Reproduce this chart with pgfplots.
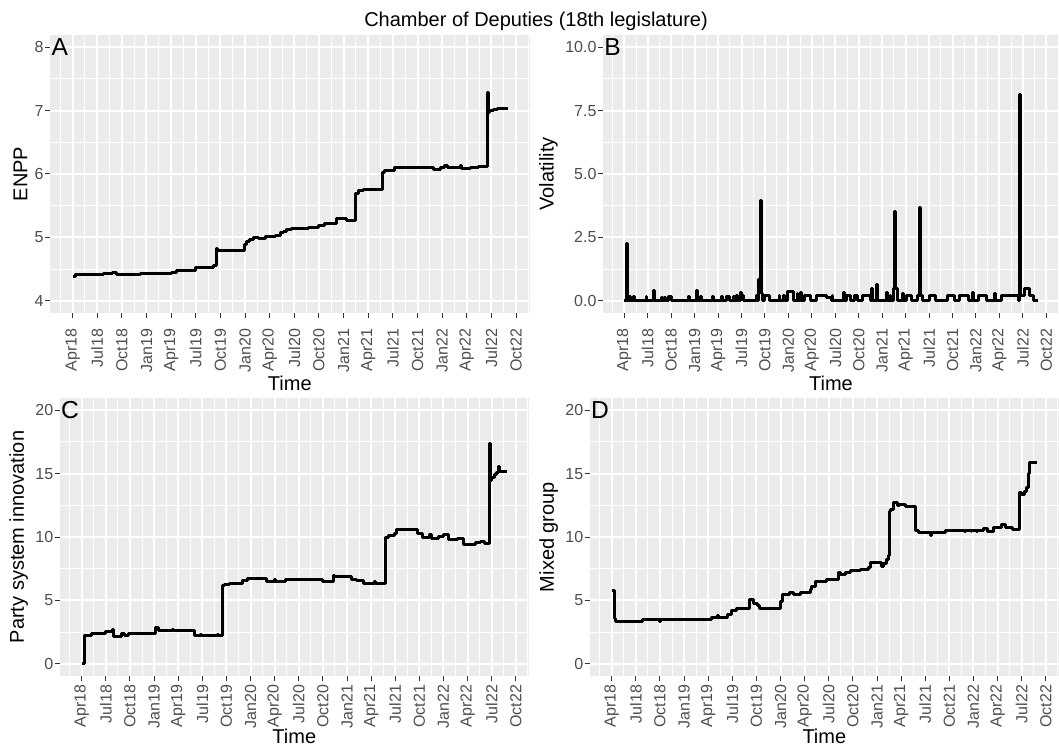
\documentclass[border=0pt]{standalone}
\usepackage{fontspec}
\setmainfont{Liberation Sans}
\usepackage{pgfplots}
\pgfplotsset{compat=1.18}

\definecolor{panelgray}{HTML}{EBEBEB}
\definecolor{ticktext}{HTML}{4D4D4D}
\definecolor{tickmark}{HTML}{333333}

\newcommand{\tickfont}{\fontsize{8}{9.6}\selectfont}
\newcommand{\titlefont}{\fontsize{10}{12}\selectfont}

\pgfplotsset{
  gg/.style={
    scale only axis,
    height=139.4pt,
    xmin=-2.75, xmax=55.65,
    axis line style={draw=none},
    axis background/.style={fill=panelgray},
    tick align=outside,
    xtick pos=bottom, ytick pos=left,
    major tick length=2.5pt,
    minor tick length=0pt,
    tick style={tickmark, line width=0.5pt},
    grid=both,
    major grid style={white, line width=1pt},
    minor grid style={white, line width=0.5pt},
    xtick={0,3,...,54},
    xticklabels={Apr18,Jul18,Oct18,Jan19,Apr19,Jul19,Oct19,Jan20,Apr20,Jul20,Oct20,Jan21,Apr21,Jul21,Oct21,Jan22,Apr22,Jul22,Oct22},
    minor xtick={-1.5,1.5,...,55.5},
    xticklabel style={rotate=90, anchor=east, font=\tickfont, text=ticktext, inner sep=0pt, xshift=-1.5pt},
    yticklabel style={font=\tickfont, text=ticktext, inner sep=0pt, xshift=-0.5pt},
    /pgf/number format/assume math mode=true,
    xlabel=Time,
    xlabel style={font=\titlefont, at={(ticklabel cs:0.5,2.5pt)}, anchor=north, inner sep=0pt},
    ylabel style={font=\titlefont, at={(ticklabel cs:0.5,3.5pt)}, rotate=0, anchor=south, inner sep=0pt},
  },
  toprow/.style={
    xticklabel style={xshift=-3.5pt},
    xlabel style={at={(ticklabel cs:0.5,1.5pt)}},
  },
  bottomrow/.style={
    xlabel style={at={(ticklabel cs:0.5,0pt)}},
  },
  dataline/.style={black, line width=1.5pt, const plot, line join=round, mark=none},
}
\tikzset{plab/.style={anchor=west, inner sep=0pt, xshift=0.6pt, font=\fontsize{12.3}{14}\selectfont}}

\begin{document}
\begin{tikzpicture}
\useasboundingbox (0,0) rectangle (529.5pt,-373.5pt);

\node[anchor=base, font=\titlefont] at (268pt,-13.2pt) {Chamber of Deputies (18th legislature)};

% A: ENPP
\begin{axis}[gg, toprow, at={(25pt,-17.3pt)}, anchor=north west, width=239.8pt,
    ymin=3.8, ymax=8.2, ytick={4,5,6,7,8}, minor ytick={4.5,5.5,6.5,7.5},
    ylabel=ENPP]
\addplot[dataline] coordinates {
(0,4.38)(0.4,4.41)(3.8,4.43)(4.9,4.44)(5.4,4.42)(8.3,4.43)(12.0,4.44)(12.6,4.47)
(14.8,4.48)(15.0,4.53)(17.1,4.56)(17.5,4.83)(17.7,4.80)(20.9,4.88)(21.2,4.93)
(21.6,4.97)(22.0,5.00)(22.6,4.98)(23.5,5.01)(24.7,5.03)(25.3,5.07)(25.7,5.10)
(26.1,5.12)(26.6,5.14)(28.7,5.16)(29.9,5.19)(30.7,5.22)(32.1,5.29)(33.3,5.26)
(34.5,5.69)(34.8,5.74)(35.4,5.76)(37.7,6.02)(38.0,6.05)(39.2,6.10)(43.9,6.07)
(44.8,6.10)(45.3,6.13)(45.7,6.10)(47.2,6.13)(47.4,6.09)(48.4,6.11)(49.4,6.12)
(50.5,7.28)(50.6,6.97)(50.8,7.00)(51.2,7.02)(51.8,7.03)(53.0,7.03)
};
\node[plab] at (axis cs:-2.75,8) {A};
\end{axis}

% B: Volatility
\begin{axis}[gg, toprow, at={(301.4pt,-17.3pt)}, anchor=north west, width=228.2pt,
    ymin=-0.5, ymax=10.5, ytick={0,2.5,5,7.5,10}, yticklabels={0.0,2.5,5.0,7.5,10.0},
    minor ytick={1.25,3.75,6.25,8.75},
    ylabel=Volatility]
\addplot[dataline] coordinates {
(0.0,0)(0.3,2.24)(0.38,0)(0.7,0.16)(0.78,0)(1.2,0.16)(1.28,0)(2.8,0.16)(2.88,0)
(3.75,0.39)(3.85,0)(4.8,0.13)(4.88,0)(5.2,0.13)(5.28,0)(5.7,0.18)(6.1,0)
(8.2,0.18)(8.3,0)(9.3,0.40)(9.4,0)(9.8,0.16)(9.88,0)(11.3,0.18)(11.4,0)
(12.5,0.18)(12.6,0)(13.1,0.18)(13.5,0)(14.0,0.16)(14.1,0)(14.4,0.20)(14.5,0)
(14.9,0.33)(15.0,0.2)(15.3,0)(16.9,0.2)(17.0,0)
(17.2,0.82)(17.45,3.97)(17.55,0.3)(17.7,0)
(18.0,0.2)(18.6,0)(19.8,0.2)(19.9,0)(20.4,0.2)(20.5,0)(20.9,0.35)(21.6,0)
(22.1,0.3)(22.2,0)(22.6,0.33)(22.7,0)(23.0,0.2)(23.8,0)(24.6,0.2)(25.9,0.13)(26.5,0)
(26.6,0.2)(26.7,0)(28.1,0.33)(28.2,0)(28.4,0.2)(29.0,0)(29.4,0.2)(29.9,0)
(30.5,0.2)(31.5,0)(31.6,0.49)(31.7,0)(32.3,0.64)(32.4,0)(33.6,0.33)(33.7,0)
(34.0,0.2)(34.1,0)(34.4,0.49)(34.6,3.51)(34.7,0.49)(35.0,0)
(35.6,0.3)(35.7,0)(36.1,0.2)(36.8,0)(37.5,0.2)(37.8,3.67)(37.9,0.2)(38.2,0)
(39.1,0.2)(39.8,0)(41.4,0.2)(42.3,0)(42.9,0.2)(44.0,0)(44.6,0.33)(44.7,0)
(45.3,0.2)(46.4,0)(47.4,0.3)(47.5,0)(48.3,0.2)(50.5,0)
(50.6,8.12)(50.7,0.2)(51.2,0.47)(51.9,0.2)(52.4,0)(52.9,0)
};
\node[plab] at (axis cs:-2.75,10) {B};
\end{axis}

% C: Party system innovation
\begin{axis}[gg, bottomrow, at={(29.8pt,-198.8pt)}, anchor=north west, width=234.75pt,
    ymin=-1, ymax=21, ytick={0,5,10,15,20}, minor ytick={2.5,7.5,12.5,17.5},
    ylabel=Party system innovation]
\addplot[dataline] coordinates {
(0,0)(0.3,2.21)(1.2,2.42)(2.9,2.58)(3.8,2.74)(3.9,2.16)(4.9,2.42)(5.3,2.20)
(5.8,2.42)(9.2,2.87)(9.5,2.63)(11.3,2.74)(11.4,2.63)(14.0,2.20)(14.8,2.3)(14.9,2.2)
(16.9,2.3)(17.0,2.2)(17.5,6.16)(17.8,6.24)(18.4,6.37)(20.0,6.55)(20.6,6.71)
(23.0,6.50)(24.0,6.63)(24.1,6.5)(25.3,6.63)(25.9,6.68)(29.9,6.50)(31.3,7.00)
(31.5,6.90)(33.6,6.63)(34.2,6.55)(35.0,6.37)(36.4,6.5)(36.5,6.37)
(37.8,10.0)(38.1,10.1)(38.9,10.3)(39.2,10.58)(41.8,10.3)(42.4,10.0)(43.2,10.2)
(43.5,9.87)(44.4,10.05)(45.0,10.18)(45.6,9.84)(46.8,9.92)(47.5,9.40)(49.0,9.53)
(49.6,9.66)(50.1,9.47)(50.7,17.37)(50.8,14.47)(51.0,14.66)(51.4,14.9)(51.6,15.1)
(51.9,15.6)(52.0,15.18)(52.9,15.18)
};
\node[plab] at (axis cs:-2.75,20) {C};
\end{axis}

% D: Mixed group
\begin{axis}[gg, bottomrow, at={(294.8pt,-198.8pt)}, anchor=north west, width=234.75pt,
    ymin=-1, ymax=21, ytick={0,5,10,15,20}, minor ytick={2.5,7.5,12.5,17.5},
    ylabel=Mixed group]
\addplot[dataline] coordinates {
(0,5.76)(0.3,3.53)(0.5,3.34)(3.8,3.47)(6.0,3.35)(6.1,3.47)(12.4,3.66)(13.2,3.82)
(13.3,3.68)(14.4,3.87)(14.9,4.21)(15.5,4.32)(17.2,5.10)(17.6,4.74)(18.1,4.58)
(18.4,4.32)(21.0,4.92)(21.3,5.45)(22.1,5.66)(22.6,5.50)(23.5,5.66)(24.7,5.84)
(24.9,6.10)(25.4,6.5)(26.7,6.63)(28.2,7.16)(28.4,7.03)(29.1,7.2)(29.7,7.34)
(30.9,7.42)(31.9,7.63)(32.2,7.95)(33.6,7.68)(33.8,7.9)(34.2,8.21)(34.4,8.53)
(34.5,12.03)(34.7,12.16)(35.0,12.74)(35.6,12.47)(35.8,12.55)(36.5,12.37)
(37.8,10.53)(38.1,10.32)(39.7,10.15)(39.8,10.32)(41.5,10.53)(43.9,10.4)(44.0,10.53)
(44.7,10.4)(44.8,10.53)(45.4,10.4)(45.5,10.53)(46.2,10.66)(46.7,10.47)(47.5,10.76)
(48.5,10.97)(49.0,10.76)(49.9,10.58)(50.7,13.53)(51.0,13.34)(51.4,13.6)(51.6,13.87)
(51.8,15.0)(52.0,15.84)(52.1,15.9)(52.9,15.9)
};
\node[plab] at (axis cs:-2.75,20) {D};
\end{axis}
\end{tikzpicture}
\end{document}
